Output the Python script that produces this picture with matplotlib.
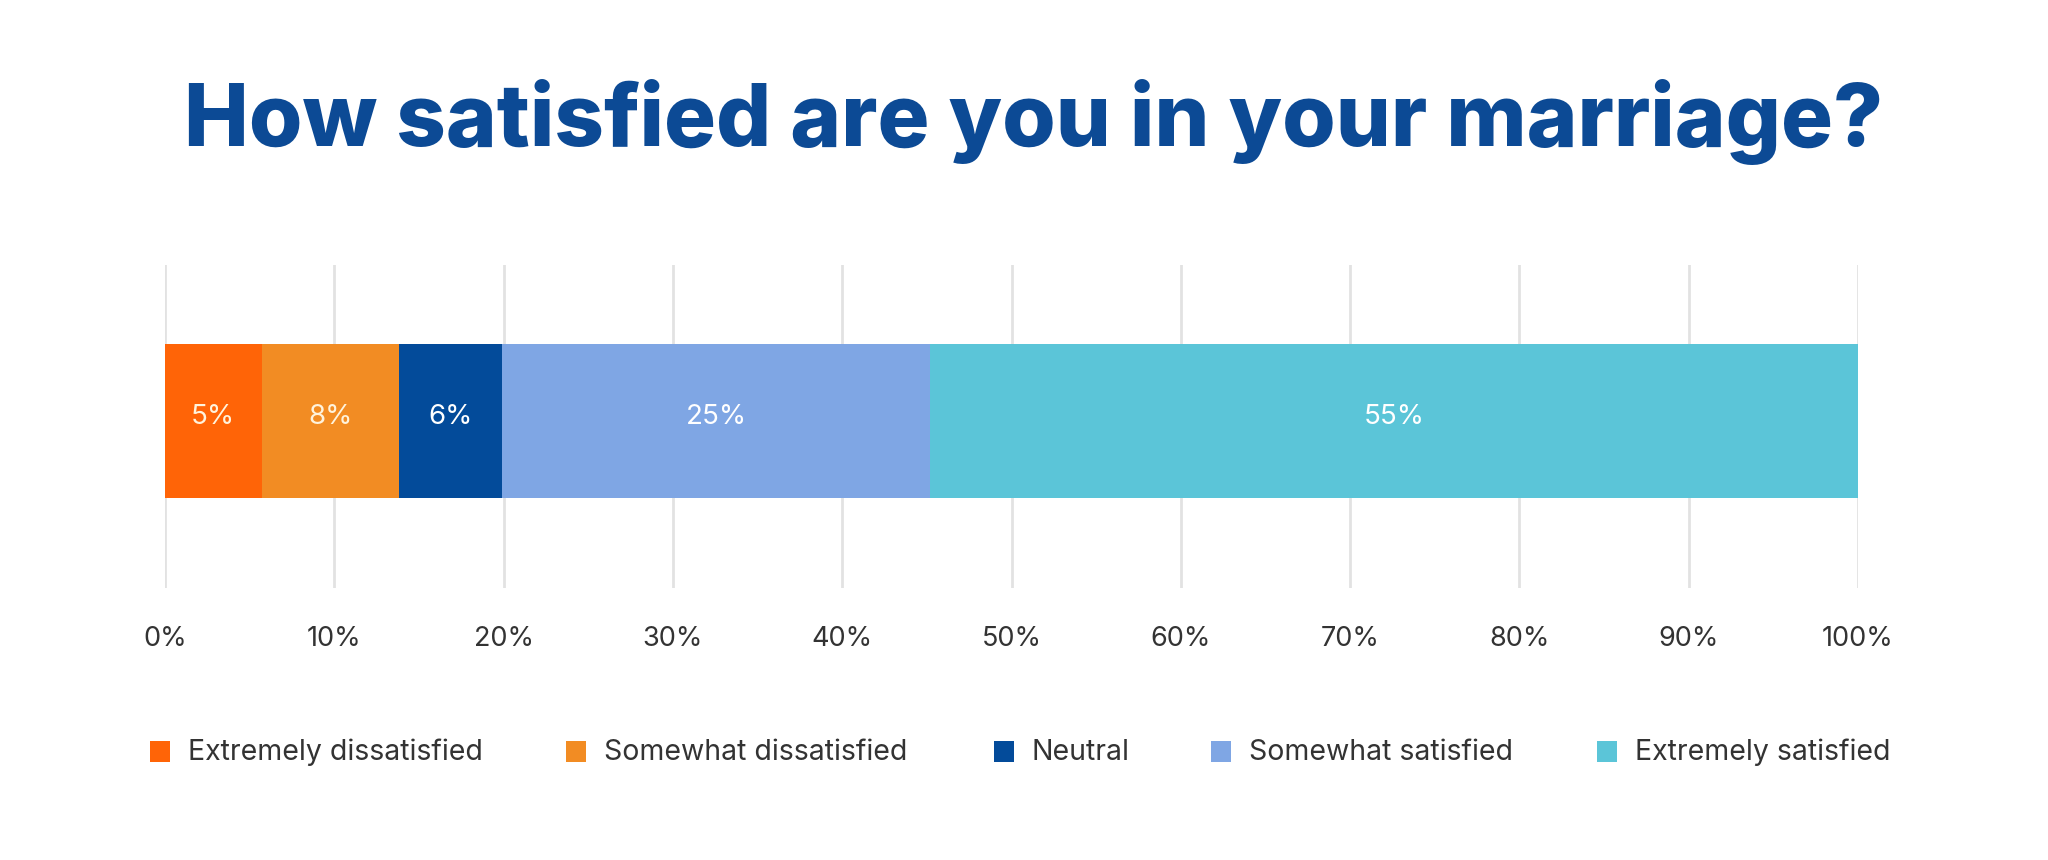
import matplotlib
matplotlib.use("Agg")
import matplotlib.pyplot as plt
from matplotlib.patches import Rectangle
import numpy as np

# ---- data ----
categories = ["Extremely dissatisfied", "Somewhat dissatisfied", "Neutral",
              "Somewhat satisfied", "Extremely satisfied"]
values = [5.7, 8.1, 6.1, 25.3, 54.8]
value_labels = ["5%", "8%", "6%", "25%", "55%"]
colors = ["#FF6407", "#F28C23", "#034B9A", "#7FA6E4", "#5BC5D8"]
x_ticks = [0, 10, 20, 30, 40, 50, 60, 70, 80, 90, 100]
x_tick_labels = [f"{t}%" for t in x_ticks]
title = "How satisfied are you in your marriage?"

W, H, DPI = 2048, 860, 100
fig = plt.figure(figsize=(W / DPI, H / DPI), dpi=DPI)
fig.patch.set_facecolor("white")

def fx(px):
    return px / W

def fy(py):
    return 1 - py / H

TEXT_FONT = ["Inter", "DejaVu Sans"]
TITLE_FONT = ["Inter", "DejaVu Sans"]

# axes: 0% at x=165, 100% at x=1858; gridlines from y=265 to y=588
ax = fig.add_axes([fx(165), fy(588), fx(1858) - fx(165), fy(265) - fy(588)])
ax.set_xlim(0, 100)
ax.set_ylim(0, 1)
for s in ax.spines.values():
    s.set_visible(False)

ax.set_xticks(x_ticks)
ax.set_xticklabels(x_tick_labels, fontsize=19.5, color="#333333", family=TEXT_FONT)
ax.tick_params(axis="x", length=0, pad=27)
ax.set_yticks([])
ax.grid(axis="x", color="#e2e2e2", linewidth=2)
ax.set_axisbelow(True)

# bar from y=344 to y=498 in pixels -> axes fraction
bar_center = 1 - ((344 + 498) / 2 - 265) / (588 - 265)
bar_height = (498 - 344) / (588 - 265)
lefts = np.concatenate([[0], np.cumsum(values)[:-1]])
ax.barh([bar_center] * len(values), values, left=lefts, height=bar_height,
        color=colors, edgecolor="none")
for l, v, lab, c in zip(lefts, values, value_labels, colors):
    tc = "#fff3dc" if c in ("#FF6407", "#F28C23") else "white"
    ax.text(l + v / 2, bar_center + 0.012, lab, ha="center", va="center",
            fontsize=20, color=tc, family=TEXT_FONT)

# title
t = fig.text(fx(1034), fy(122), title, ha="center", va="center",
             fontsize=62, fontweight="heavy", color="#0C4A95", family=TITLE_FONT)
fig.canvas.draw()
bb = t.get_window_extent()
t.set_fontsize(62 * 1700 / bb.width)

# legend, drawn manually
marker_x = [150, 566, 994, 1211, 1597]
legend_y = 752
for mx, cat, c in zip(marker_x, categories, colors):
    fig.patches.append(Rectangle((fx(mx), fy(legend_y + 10)), fx(20), fy(0) - fy(21),
                                 transform=fig.transFigure, facecolor=c,
                                 edgecolor="none"))
    fig.text(fx(mx + 38), fy(legend_y), cat, ha="left", va="center",
             fontsize=20.5, color="#333333", family=TEXT_FONT)

fig.savefig("out.png", dpi=DPI, facecolor="white")
